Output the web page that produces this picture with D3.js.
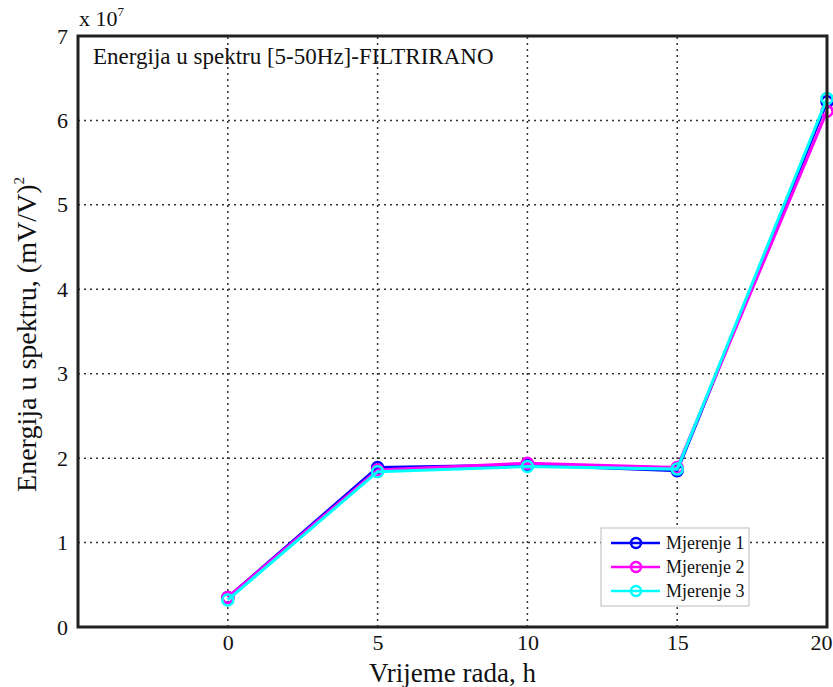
<!DOCTYPE html>
<html>
<head>
<meta charset="utf-8">
<script src="https://cdn.jsdelivr.net/npm/d3@7"></script>
<style>
  body { margin: 0; background: #fff; }
  svg { display: block; font-family: "Liberation Serif", "Times New Roman", serif; }
</style>
</head>
<body>
<div id="chart"></div>
<script>
// data (values in units of 1e7)
const hours = [0, 5, 10, 15, 20];
const mjerenje1 = [0.35, 1.89, 1.92, 1.85, 6.22];
const mjerenje2 = [0.35, 1.86, 1.94, 1.89, 6.11];
const mjerenje3 = [0.32, 1.84, 1.90, 1.87, 6.26];
const seriesNames = ["Mjerenje 1", "Mjerenje 2", "Mjerenje 3"];
const seriesColors = ["#0000ff", "#ff00ff", "#00ffff"];
const xTicks = [0, 5, 10, 15, 20];
const yTicks = [0, 1, 2, 3, 4, 5, 6, 7];

const width = 833, height = 687;
const margins = { top: 36, right: 6, bottom: 60, left: 78 };

const svg = d3.select("#chart").append("svg")
    .attr("width", width)
    .attr("height", height);

const x = d3.scaleLinear()
    .domain([-5, 20])
    .range([margins.left, width - margins.right]);

const y = d3.scaleLinear()
    .domain([0, 7])
    .range([height - margins.bottom, margins.top]);

// grid (dotted)
const grid = svg.append("g").attr("stroke", "#333").attr("stroke-width", 1.5)
    .attr("stroke-dasharray", "2,4");
grid.selectAll("line.v")
    .data(xTicks.filter(d => d > -5 && d < 20))
    .join("line")
    .attr("class", "v")
    .attr("x1", d => x(d)).attr("x2", d => x(d))
    .attr("y1", y(0)).attr("y2", y(7));
grid.selectAll("line.h")
    .data(yTicks.filter(d => d > 0 && d < 7))
    .join("line")
    .attr("class", "h")
    .attr("x1", x(-5)).attr("x2", x(20))
    .attr("y1", d => y(d)).attr("y2", d => y(d));

// axes tick labels
const xAxis = svg.append("g")
    .attr("transform", `translate(0,${y(0)})`)
    .call(d3.axisBottom(x).tickValues(xTicks).tickSize(0).tickPadding(7).tickFormat(d3.format("d")));
xAxis.select(".domain").remove();
xAxis.selectAll("text").attr("font-size", 22).attr("fill", "#111")
    .attr("font-family", "Liberation Serif");
// last label sits against the right edge, keep it inside the page
xAxis.selectAll("text").filter(d => d === 20)
    .attr("text-anchor", "end").attr("x", 5);

const yAxis = svg.append("g")
    .attr("transform", `translate(${x(-5)},0)`)
    .call(d3.axisLeft(y).tickValues(yTicks).tickSize(0).tickPadding(10).tickFormat(d3.format("d")));
yAxis.select(".domain").remove();
yAxis.selectAll("text").attr("font-size", 22).attr("fill", "#111")
    .attr("font-family", "Liberation Serif");

// lines + markers
const allSeries = [mjerenje1, mjerenje2, mjerenje3];
const line = d3.line().x((d, i) => x(hours[i])).y(d => y(d));

allSeries.forEach((vals, s) => {
    const g = svg.append("g");
    g.append("path")
        .datum(vals)
        .attr("fill", "none")
        .attr("stroke", seriesColors[s])
        .attr("stroke-width", 3)
        .attr("d", line);
    g.selectAll("circle")
        .data(vals)
        .join("circle")
        .attr("cx", (d, i) => x(hours[i]))
        .attr("cy", d => y(d))
        .attr("r", 5.5)
        .attr("fill", "none")
        .attr("stroke", seriesColors[s])
        .attr("stroke-width", 2.5);
});

// axes box
svg.append("rect")
    .attr("x", x(-5)).attr("y", y(7))
    .attr("width", x(20) - x(-5)).attr("height", y(0) - y(7))
    .attr("fill", "none").attr("stroke", "#221f1f").attr("stroke-width", 3);

// title inside plot
svg.append("text")
    .attr("x", 93).attr("y", 64)
    .attr("font-size", 23)
    .attr("fill", "#111")
    .text("Energija u spektru [5-50Hz]-FILTRIRANO");

// exponent label
const expo = svg.append("text")
    .attr("x", 79).attr("y", 26)
    .attr("font-size", 22)
    .attr("fill", "#111");
expo.append("tspan").text("x 10");
expo.append("tspan").attr("font-size", 13).attr("dy", -10).text("7");

// x label
svg.append("text")
    .attr("x", (x(-5) + x(20)) / 2).attr("y", 682)
    .attr("text-anchor", "middle")
    .attr("font-size", 27)
    .attr("fill", "#111")
    .text("Vrijeme rada, h");

// y label
const yl = svg.append("text")
    .attr("transform", `translate(36,${(y(0) + y(7)) / 2 + 3}) rotate(-90)`)
    .attr("text-anchor", "middle")
    .attr("font-size", 28)
    .attr("fill", "#111");
yl.append("tspan").text("Energija u spektru, (mV/V)");
yl.append("tspan").attr("font-size", 15).attr("dy", -12).text("2");

// legend
const legend = svg.append("g").attr("transform", "translate(601,528)");
legend.append("rect")
    .attr("width", 148).attr("height", 78)
    .attr("fill", "#fff").attr("stroke", "#bbb").attr("stroke-width", 1);
const item = legend.selectAll("g.item")
    .data(seriesNames)
    .join("g")
    .attr("class", "item")
    .attr("transform", (d, i) => `translate(0,${15 + i * 24})`);
item.append("line")
    .attr("x1", 10).attr("x2", 59)
    .attr("stroke", (d, i) => seriesColors[i]).attr("stroke-width", 2.5);
item.append("circle")
    .attr("cx", 35).attr("r", 5)
    .attr("fill", "none")
    .attr("stroke", (d, i) => seriesColors[i]).attr("stroke-width", 2.5);
item.append("text")
    .attr("x", 65).attr("y", 6)
    .attr("font-size", 18)
    .attr("fill", "#111")
    .text(d => d);
</script>
</body>
</html>
